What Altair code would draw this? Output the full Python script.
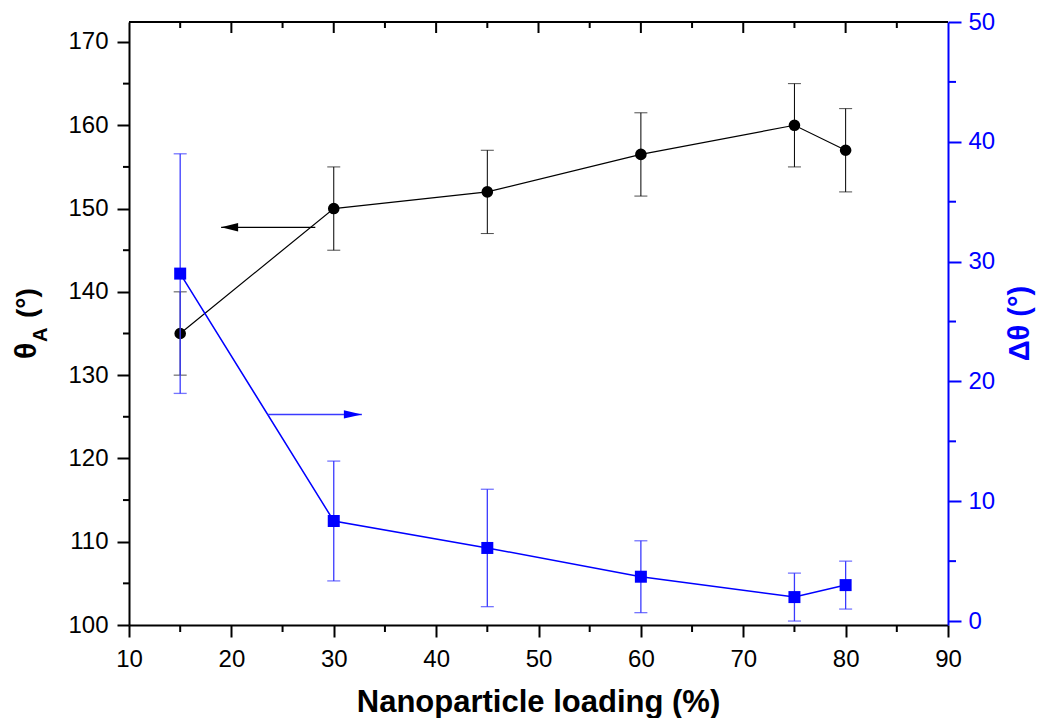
import altair as alt
import pandas as pd

# ---------------- data ----------------
loading = [15, 30, 45, 60, 75, 80]
theta_a = [135, 150, 152, 156.5, 160, 157]
theta_a_err = [5, 5, 5, 5, 5, 5]
delta_theta = [29, 8.35, 6.1, 3.7, 2.0, 3.0]
delta_theta_err = [10, 5, 4.9, 3, 2, 2]

x_major = [10, 20, 30, 40, 50, 60, 70, 80, 90]
x_minor = [15, 25, 35, 45, 55, 65, 75, 85]
x_top_major = [20, 30, 40, 50, 60, 70, 80]
left_major = [100, 110, 120, 130, 140, 150, 160, 170]
left_minor = [105, 115, 125, 135, 145, 155, 165]
right_major = [0, 10, 20, 30, 40, 50]
right_minor = [5, 15, 25, 35, 45]

# annotation arrows (data coordinates)
arrow_left_x = [28.2, 19.0]     # tail, head  (left axis)
arrow_left_y = 147.75
arrow_right_x = [23.55, 32.75]  # tail, head  (right axis)
arrow_right_y = 17.25

W, H = 819, 603
FONT = "Liberation Sans"
BLUE = "#0000ff"
EBLUE = "#3a3aff"

black_df = pd.DataFrame({
    "x": loading, "y": theta_a,
    "lo": [v - e for v, e in zip(theta_a, theta_a_err)],
    "hi": [v + e for v, e in zip(theta_a, theta_a_err)],
})
blue_df = pd.DataFrame({
    "x": loading, "y": delta_theta,
    "lo": [v - e for v, e in zip(delta_theta, delta_theta_err)],
    "hi": [v + e for v, e in zip(delta_theta, delta_theta_err)],
})
black_caps = pd.DataFrame({"x": loading * 2, "y": list(black_df["lo"]) + list(black_df["hi"])})
blue_caps = pd.DataFrame({"x": loading * 2, "y": list(blue_df["lo"]) + list(blue_df["hi"])})

xs = alt.Scale(domain=[10, 90], nice=False, zero=False)
ys_left = alt.Scale(domain=[100, 172.4], nice=False, zero=False)
ys_right = alt.Scale(domain=[-0.33, 50], nice=False, zero=False)

x_axis = alt.Axis(values=x_major, orient="bottom", tickSize=12, tickWidth=2, domainWidth=2,
                  domainColor="black", tickColor="black", labelColor="black",
                  labelFontSize=24, labelFont=FONT, labelPadding=10, labelFlush=False,
                  labelOverlap=False, grid=False, title=None, format="d")
left_axis = alt.Axis(values=left_major, orient="left", tickSize=12, tickWidth=2, domainWidth=2,
                     domainColor="black", tickColor="black", labelColor="black",
                     labelFontSize=24, labelFont=FONT, labelPadding=9, labelOverlap=False,
                     grid=False, title=None, format="d")
right_axis = alt.Axis(values=right_major, orient="right", tickSize=13, tickWidth=2, domainWidth=2,
                      domainColor=BLUE, tickColor=BLUE, labelColor=BLUE,
                      labelFontSize=24, labelFont=FONT, labelPadding=7, labelOverlap=False,
                      grid=False, title=None, format="d")


def X(field):
    return alt.X(field, scale=xs, axis=x_axis)


def YL(field):
    return alt.Y(field, scale=ys_left, axis=left_axis)


def YR(field):
    return alt.Y(field, scale=ys_right, axis=right_axis)


one = pd.DataFrame({"a": [0]})

# ---------------- left (black) group ----------------
b_err = alt.Chart(black_df).mark_rule(color="black", strokeWidth=1).encode(
    x=X("x:Q"), y=YL("lo:Q"), y2="hi:Q")
b_caps = alt.Chart(black_caps).mark_tick(color="black", orient="horizontal", size=13, thickness=1).encode(
    x=X("x:Q"), y=YL("y:Q"))
b_line = alt.Chart(black_df).mark_line(color="black", strokeWidth=1.2).encode(
    x=X("x:Q"), y=YL("y:Q"))
b_pts = alt.Chart(black_df).mark_point(shape="circle", filled=True, color="black", size=135, opacity=1).encode(
    x=X("x:Q"), y=YL("y:Q"))

left_min = alt.Chart(pd.DataFrame({"v": left_minor})).mark_rule(color="black", strokeWidth=2).encode(
    y=YL("v:Q"), x=alt.value(-6), x2=alt.value(0))
bottom_min = alt.Chart(pd.DataFrame({"v": x_minor})).mark_rule(color="black", strokeWidth=2).encode(
    x=X("v:Q"), y=alt.value(H), y2=alt.value(H + 7))
top_maj = alt.Chart(pd.DataFrame({"v": x_top_major})).mark_rule(color="black", strokeWidth=2).encode(
    x=X("v:Q"), y=alt.value(0), y2=alt.value(11))
top_min = alt.Chart(pd.DataFrame({"v": x_minor})).mark_rule(color="black", strokeWidth=2).encode(
    x=X("v:Q"), y=alt.value(0), y2=alt.value(6))
top_frame = alt.Chart(one).mark_rule(color="black", strokeWidth=2).encode(
    x=alt.value(0), x2=alt.value(W), y=alt.value(0))

b_arrow = alt.Chart(pd.DataFrame({"x": [arrow_left_x[0]], "x2": [arrow_left_x[1]], "y": [arrow_left_y]})).mark_rule(
    color="black", strokeWidth=1.2).encode(x=X("x:Q"), x2="x2:Q", y=YL("y:Q"))
b_head = alt.Chart(pd.DataFrame({"x": [arrow_left_x[1]], "y": [arrow_left_y]})).mark_point(
    shape="M 0 0 L 2 -0.5 L 2 0.5 Z", filled=True, color="black", size=289, opacity=1, strokeWidth=0).encode(
    x=X("x:Q"), y=YL("y:Q"))

t_theta = alt.Chart(one).mark_text(text="θ", font=FONT, fontWeight="bold", fontSize=30, angle=270,
                                   align="left", baseline="alphabetic", color="black").encode(
    x=alt.value(-93), y=alt.value(337))
t_sub = alt.Chart(one).mark_text(text="A", font=FONT, fontWeight="bold", fontSize=20, angle=270,
                                 align="left", baseline="alphabetic", color="black").encode(
    x=alt.value(-82), y=alt.value(320))
t_deg = alt.Chart(one).mark_text(text="(°)", font=FONT, fontWeight="bold", fontSize=28, angle=270,
                                 align="left", baseline="alphabetic", color="black").encode(
    x=alt.value(-93), y=alt.value(296))
t_x = alt.Chart(one).mark_text(text="Nanoparticle loading (%)", font=FONT, fontWeight="bold", fontSize=31,
                               align="center", baseline="alphabetic", color="black").encode(
    x=alt.value(W / 2), y=alt.value(690))
t_right = alt.Chart(one).mark_text(text="Δθ (°)", font=FONT, fontWeight="bold", fontSize=29, angle=270,
                                   align="center", baseline="alphabetic", color=BLUE).encode(
    x=alt.value(900), y=alt.value(H / 2))

left = alt.layer(b_err, b_caps, b_line, b_pts, left_min, bottom_min, top_maj, top_min, top_frame,
                 b_arrow, b_head, t_theta, t_sub, t_deg, t_x, t_right)

# ---------------- right (blue) group ----------------
r_err = alt.Chart(blue_df).mark_rule(color=EBLUE, strokeWidth=1.3).encode(
    x=X("x:Q"), y=YR("lo:Q"), y2="hi:Q")
r_caps = alt.Chart(blue_caps).mark_tick(color=EBLUE, orient="horizontal", size=13, thickness=1.3).encode(
    x=X("x:Q"), y=YR("y:Q"))
r_line = alt.Chart(blue_df).mark_line(color=BLUE, strokeWidth=1.5).encode(
    x=X("x:Q"), y=YR("y:Q"))
r_pts = alt.Chart(blue_df).mark_point(shape="square", filled=True, color=BLUE, size=144, opacity=1).encode(
    x=X("x:Q"), y=YR("y:Q"))
right_min = alt.Chart(pd.DataFrame({"v": right_minor})).mark_rule(color=BLUE, strokeWidth=2).encode(
    y=YR("v:Q"), x=alt.value(W), x2=alt.value(W + 8))
r_arrow = alt.Chart(pd.DataFrame({"x": [arrow_right_x[0]], "x2": [arrow_right_x[1]], "y": [arrow_right_y]})).mark_rule(
    color=EBLUE, strokeWidth=1.5).encode(x=X("x:Q"), x2="x2:Q", y=YR("y:Q"))
r_head = alt.Chart(pd.DataFrame({"x": [arrow_right_x[1]], "y": [arrow_right_y]})).mark_point(
    shape="M 0 0 L -2 -0.47 L -2 0.47 Z", filled=True, color=BLUE, size=324, opacity=1, strokeWidth=0).encode(
    x=X("x:Q"), y=YR("y:Q"))

right = alt.layer(r_err, r_caps, r_line, r_pts, right_min, r_arrow, r_head)

chart = alt.layer(left, right).resolve_scale(y="independent").properties(
    width=W, height=H,
    padding={"left": 121, "top": 14, "right": 89, "bottom": 93},
    autosize=alt.AutoSizeParams(type="none"),
    background="white",
).configure_view(strokeWidth=0)

chart.save("out.html", embed_options={"renderer": "svg", "actions": False})
